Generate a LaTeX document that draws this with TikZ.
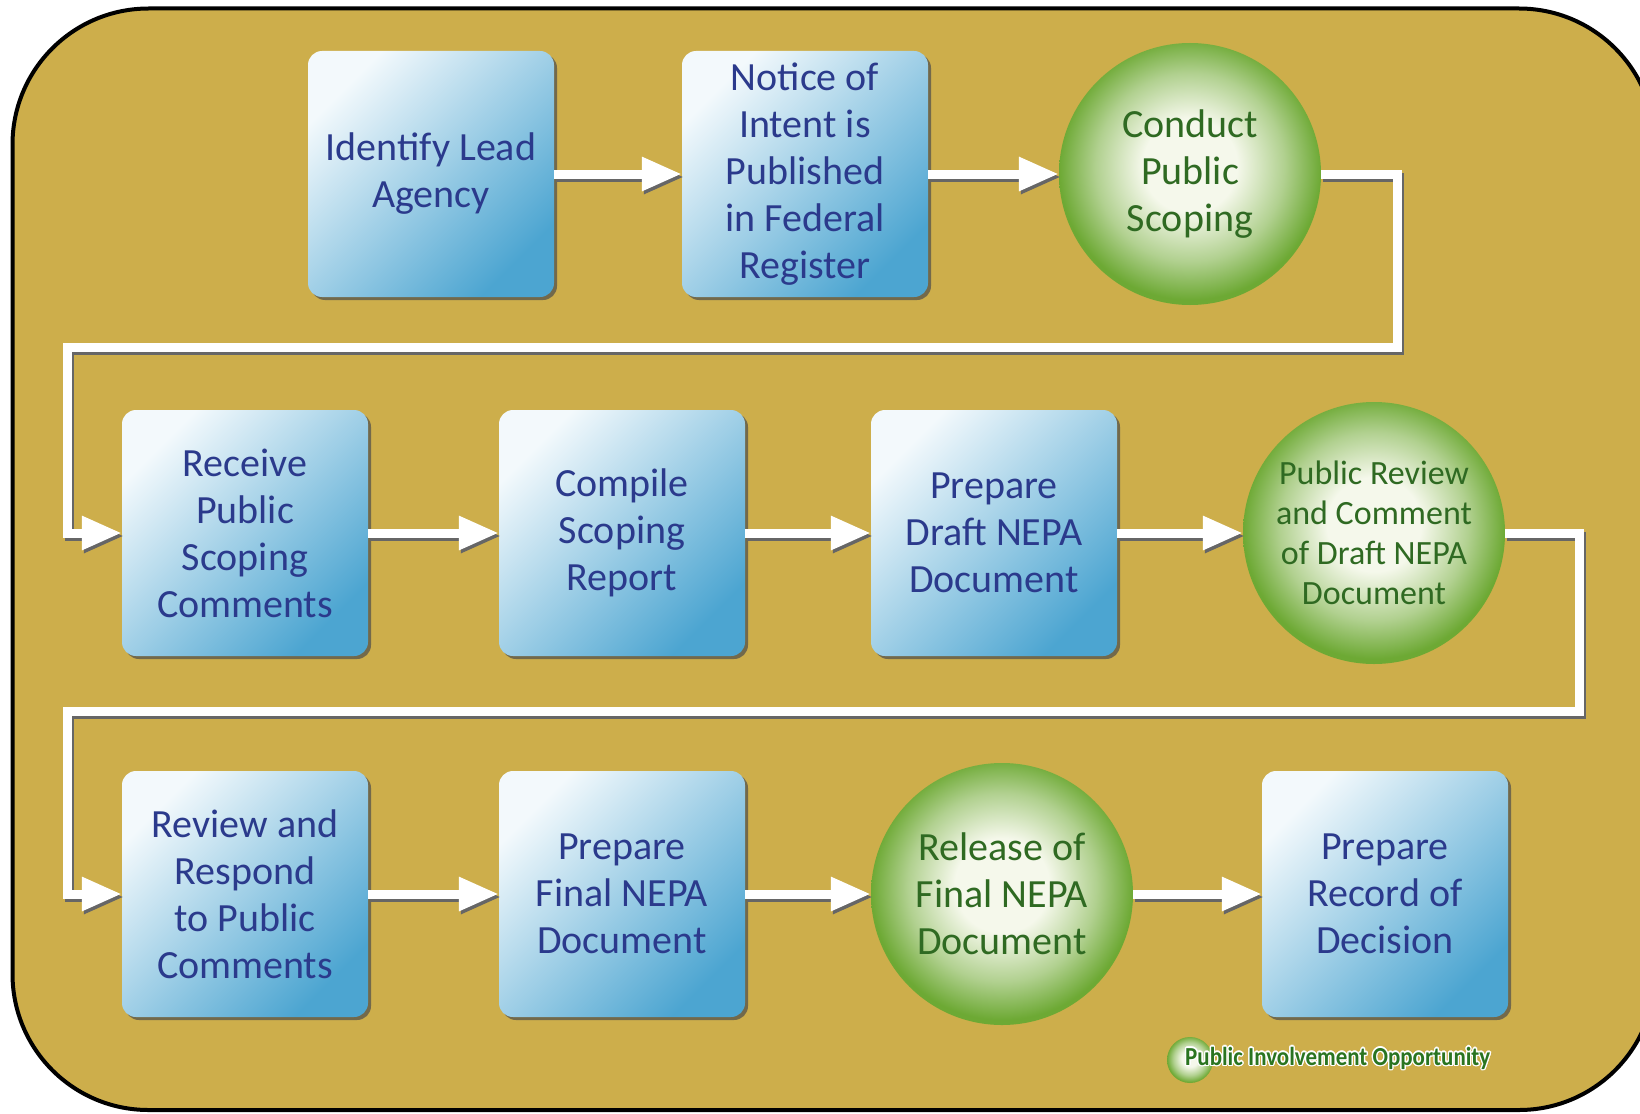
\documentclass[tikz,border=0pt]{standalone}
\usepackage{fontspec}
\setmainfont{Carlito}
\usepackage{contour}
\usetikzlibrary{arrows.meta,shadows}
\definecolor{gold}{HTML}{CDAE4B}
\definecolor{navy}{HTML}{2B3A8C}
\definecolor{dgreen}{HTML}{2F6A22}
\definecolor{lgreen}{HTML}{2A7420}
\definecolor{boxlight}{HTML}{F3F9FC}
\definecolor{boxmid}{HTML}{C2E1F0}
\definecolor{boxdark}{HTML}{4CA5D1}
\definecolor{ballgreen}{HTML}{6DA934}
\definecolor{balllight}{HTML}{F5F8EB}
\pgfdeclareradialshading{ball}{\pgfpoint{0bp}{2bp}}{color(0bp)=(balllight); color(9bp)=(balllight); color(18bp)=(ballgreen!50!balllight); color(25bp)=(ballgreen); color(50bp)=(ballgreen)}
\contourlength{1.4pt}
\tikzset{
  stepbox/.style={rectangle, rounded corners=14pt, minimum width=246pt, minimum height=246pt,
    inner sep=0pt, top color=boxlight, middle color=boxmid, bottom color=boxdark, shading angle=45,
    text=navy, align=center, font=\fontsize{40}{47}\selectfont,
    drop shadow={shadow xshift=3pt, shadow yshift=-3pt, fill=black!70, opacity=0.7}},
  ballnode/.style={circle, minimum size=262pt, inner sep=0pt, shading=ball,
    text=dgreen, align=center, font=\fontsize{40}{47}\selectfont},
  flow/.style={draw=white, line width=9pt, line join=miter,
    -{Triangle[width=32pt,length=40pt]},
    preaction={draw=black!60, line width=9pt, transform canvas={shift={(2pt,-3pt)}}}},
}
\begin{document}
\begin{tikzpicture}[x=1pt,y=-1pt]
\useasboundingbox (0,0) rectangle (1640,1113);
\fill[white] (0,0) rectangle (1640,1113);
\draw[line width=4pt, fill=gold, rounded corners=136pt] (12.5,8.5) rectangle (1655,1110);

% row 1
\node[stepbox] (b1) at (431,174) {Identify Lead\\Agency};
\node[stepbox] (b2) at (805,174) {Notice of\\Intent is\\Published\\in Federal\\Register};
\node[ballnode] (c1) at (1190,174) {Conduct\\Public\\Scoping};
% row 2
\node[stepbox] (b3) at (245,533) {Receive\\Public\\Scoping\\Comments};
\node[stepbox] (b4) at (622,533) {Compile\\Scoping\\Report};
\node[stepbox] (b5) at (994,533) {Prepare\\Draft NEPA\\Document};
\node[ballnode, font=\fontsize{34}{40}\selectfont] (c2) at (1374,533) {Public Review\\and Comment\\of Draft NEPA\\Document};
% row 3
\node[stepbox] (b6) at (245,894) {Review and\\Respond\\to Public\\Comments};
\node[stepbox] (b7) at (622,894) {Prepare\\Final NEPA\\Document};
\node[ballnode] (c3) at (1002,894) {Release of\\Final NEPA\\Document};
\node[stepbox] (b8) at (1385,894) {Prepare\\Record of\\Decision};

% connector corners
\coordinate (k1) at (1397,347);
\coordinate (k2) at (67,347);
\coordinate (k3) at (1579,711);
\coordinate (k4) at (67,711);

% arrows
\draw[flow] (b1.east) -- (b2.west);
\draw[flow] (b2.east) -- (c1.west);
\draw[flow] (c1.east) -| (k1) -- (k2) |- (b3.west);
\draw[flow] (b3.east) -- (b4.west);
\draw[flow] (b4.east) -- (b5.west);
\draw[flow] (b5.east) -- (c2.west);
\draw[flow] (c2.east) -| (k3) -- (k4) |- (b6.west);
\draw[flow] (b6.east) -- (b7.west);
\draw[flow] (b7.east) -- (c3.west);
\draw[flow] (c3.east) -- (b8.west);

% legend
\node[circle, minimum size=46pt, inner sep=0pt, shading=ball] (lg) at (1190,1060) {};
\node[anchor=west, inner sep=0pt, font=\fontsize{26}{28}\selectfont\bfseries] (lt) at (1185,1059)
  {\resizebox{305pt}{\height}{\contour{white}{\textcolor{lgreen}{Public Involvement Opportunity}}}};
\end{tikzpicture}
\end{document}
